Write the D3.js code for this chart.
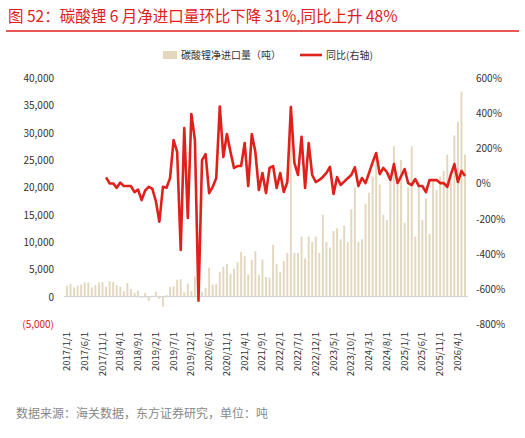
<!DOCTYPE html>
<html><head><meta charset="utf-8">
<script src="https://cdn.jsdelivr.net/npm/d3@7"></script>
<style>body{margin:0;background:#fff;font-family:"Noto Sans CJK SC","Noto Sans",sans-serif}</style>
</head><body>
<script>
// monthly net imports (tonnes), 2017/1 .. 2026/6 (Jan+Feb 2020 reported together)
var imports = [
  2000, 2300, 1700, 2000, 2200, 2600, 2600, 1700, 2100, 2600, 2700, 1800,
  2800, 2700, 2100, 1800, 1000, 2500, 1400, 700, 1100, -200, 700, -800,
  200, 900, -400, -1800, 300, 1800, 1900, 3100, 3200, 800, 2400, 1000,
  3700, 4000, 900, 1600, 5300, 2200, 2300, 4500, 5500, 6000, 4200,
  5100, 6300, 8200, 7400, 4100, 6700, 8300, 4000, 6800, 3600, 3500, 9500,
  6000, 4500, 6500, 8000, 35000, 8000, 8000, 11000, 7000, 11000, 10000, 11000,
  8000, 15000, 10000, 9000, 12000, 12500, 10500, 13000, 10000, 16000, 20000, 10000,
  10500, 17000, 19000, 22000, 25000, 20500, 15000, 14000, 21000, 27500, 20500, 25000,
  13500, 20000, 27500, 11000, 21000, 14000, 18000, 11500, 21000, 19500, 22000, 23000,
  26000, 21000, 29500, 32000, 37500, 26000
];
// YoY %, starting 2017/12
var yoy = [
  35,
  0, 0, -25, 5, -15, -15, -15, -50, -35, -95, -40, -20,
  -30, -100, -218, -19, -25, 30, 247, 180, -379, 315, -197, 395,
  247, -668, 133, 167, -55, -20, 31, 437, 150, 281, 180,
  88, 99, 99, 230, -15, 281, 180, -37, 59, -55, 88, 99,
  -26, 59, -49, 8, 435, 116, 48, 266, -26, 230, 48, 8,
  20, 37, 60, 94, -60, 36, -9, 10, 30, 48, 92, -15,
  31, 2, 60, 120, 173, 53, 88, 65, 19, 110, 2, 40,
  82, 2, -9, 25, -15, -15, -49, 19, 19, 19, 2, 2,
  -20, 50, 110, 8, 71, 42
];
var leftTicks = [-5000, 0, 5000, 10000, 15000, 20000, 25000, 30000, 35000, 40000];
var rightTicks = [-800, -600, -400, -200, 0, 200, 400, 600];

var months = d3.range(0, 114).map(i => new Date(2017, i, 1))
  .filter(d => !(d.getFullYear() === 2020 && d.getMonth() === 0));
var yoyMonths = months.slice(months.length - yoy.length);
var labelMonths = months.filter((d, i) => i % 5 === 0);

var W = 525, H = 438;
var svg = d3.select("body").append("svg").attr("width", W).attr("height", H);

svg.append("text").attr("x", 8).attr("y", 22).attr("fill", "#e0201b")
  .attr("font-size", 15.5).text("图 52：碳酸锂 6 月净进口量环比下降 31%,同比上升 48%");
svg.append("line").attr("x1", 6).attr("x2", 519).attr("y1", 31).attr("y2", 31)
  .attr("stroke", "#e0201b").attr("stroke-width", 1.5);

var x = d3.scaleBand().domain(months.map(d => +d)).range([66, 466]).paddingInner(0.45);
var xc = d => x(+d) + x.bandwidth() / 2;
var yL = d3.scaleLinear().domain([-5000, 40000]).range([324, 78]);
var yR = d3.scaleLinear().domain([-800, 600]).range([324, 78]);

// left axis labels
svg.append("g").selectAll("text").data(leftTicks).join("text")
  .attr("x", 54).attr("y", d => yL(d) + 4).attr("text-anchor", "end")
  .attr("font-size", 10).attr("fill", d => d < 0 ? "#e0201b" : "#333")
  .text(d => d < 0 ? "(" + d3.format(",")(-d) + ")" : d3.format(",")(d));
// right axis labels
svg.append("g").selectAll("text").data(rightTicks).join("text")
  .attr("x", 476).attr("y", d => yR(d) + 4).attr("font-size", 10).attr("fill", "#333")
  .text(d => d + "%");

// bars
svg.append("g").selectAll("rect").data(imports).join("rect")
  .attr("x", (d, i) => x(+months[i])).attr("width", x.bandwidth())
  .attr("y", d => yL(Math.max(0, d))).attr("height", d => Math.abs(yL(d) - yL(0)))
  .attr("fill", "#e3d8bf");

svg.append("line").attr("x1", 64).attr("x2", 468).attr("y1", yL(0)).attr("y2", yL(0))
  .attr("stroke", "#d0d0d0");

// yoy line
svg.append("path").datum(yoy)
  .attr("d", d3.line().x((d, i) => xc(yoyMonths[i])).y(d => yR(d)))
  .attr("fill", "none").attr("stroke", "#e0201b").attr("stroke-width", 2.6)
  .attr("stroke-linejoin", "round");

// x labels
var fmt = d => d.getFullYear() + "/" + (d.getMonth() + 1) + "/1";
svg.append("g").selectAll("text").data(labelMonths).join("text")
  .attr("transform", d => "translate(" + (xc(d) + 3) + ",332) rotate(-90)")
  .attr("text-anchor", "end").attr("font-size", 9.5).attr("fill", "#333").text(fmt);

// legend
svg.append("rect").attr("x", 163).attr("y", 51).attr("width", 14).attr("height", 8).attr("fill", "#e3d8bf");
svg.append("text").attr("x", 181).attr("y", 59).attr("font-size", 10).attr("fill", "#333").text("碳酸锂净进口量（吨）");
svg.append("line").attr("x1", 300).attr("x2", 322).attr("y1", 55).attr("y2", 55).attr("stroke", "#e0201b").attr("stroke-width", 2.6);
svg.append("text").attr("x", 326).attr("y", 59).attr("font-size", 10).attr("fill", "#333").text("同比(右轴)");

svg.append("text").attr("x", 16).attr("y", 418).attr("font-size", 12).attr("fill", "#888")
  .text("数据来源：海关数据，东方证券研究，单位：吨");
</script>
</body></html>
